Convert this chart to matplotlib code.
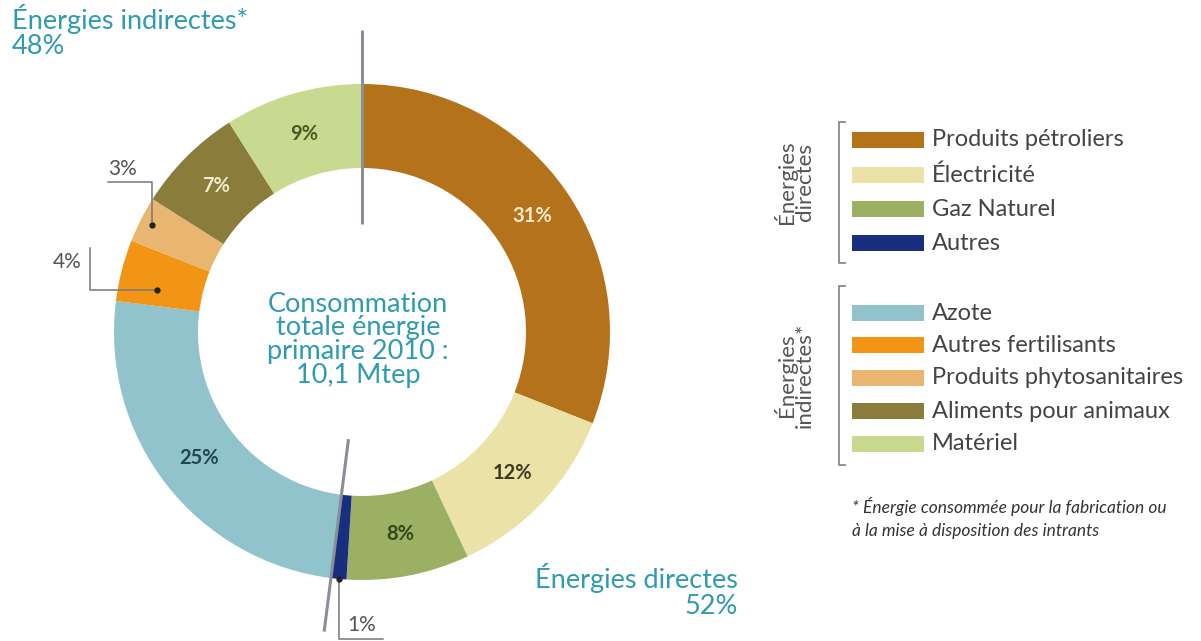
import matplotlib
matplotlib.use("Agg")
import matplotlib.pyplot as plt
import numpy as np
from matplotlib.patches import Rectangle

plt.rcParams['font.family'] = ['Lato', 'DejaVu Sans']

# data
labels = ["Produits pétroliers", "Électricité", "Gaz Naturel", "Autres",
          "Azote", "Autres fertilisants", "Produits phytosanitaires",
          "Aliments pour animaux", "Matériel"]
values = [31, 12, 8, 1, 25, 4, 3, 7, 9]
pct_text = ["31%", "12%", "8%", "1%", "25%", "4%", "3%", "7%", "9%"]
colors = ["#B4731B", "#EAE2A6", "#9BB062", "#1A2E80",
          "#90C3CC", "#F39514", "#E8B670", "#8A7D3C", "#C8DA8F"]
label_colors = ["#F8EBD0", "#3D3A22", "#2F4A1A", None,
                "#23454F", None, None, "#F1EBCF", "#4A5A24"]
n_direct = 4

teal = "#2F9BB0"
gray = "#555555"
H = 641

fig = plt.figure(figsize=(12.01, 6.41), dpi=100)
ax = fig.add_axes([0, 0, 1, 1])
ax.set_xlim(0, 1201)
ax.set_ylim(0, H)
ax.axis("off")

cx, cy = 362, H - 332
R, r = 248, 164
wedges, _ = ax.pie(values, colors=colors, startangle=90, counterclock=False,
                   radius=R, center=(cx, cy),
                   wedgeprops=dict(width=R - r, linewidth=0))
ax.set_xlim(0, 1201)
ax.set_ylim(0, H)
ax.set_aspect("equal")

def polar(ang, rad):
    a = np.deg2rad(ang)
    return cx + rad * np.cos(a), cy + rad * np.sin(a)

mid_r = (R + r) / 2
for w, t, c in zip(wedges, pct_text, label_colors):
    if c is None:
        continue
    x, y = polar((w.theta1 + w.theta2) / 2, mid_r)
    ax.text(x, y, t, ha="center", va="center", fontsize=14.5, color=c, fontweight="bold")

# divider lines between direct / indirect
for ang in [wedges[0].theta2, wedges[n_direct - 1].theta1]:
    x0, y0 = polar(ang, 108)
    x1, y1 = polar(ang, 302)
    ax.plot([x0, x1], [y0, y1], color="#8A8E96", lw=2.2, solid_capstyle="butt")

# callouts for small slices
def mid(i):
    return (wedges[i].theta1 + wedges[i].theta2) / 2

lc = "#777777"
# 3%
dx, dy = polar(mid(6), 236)
ax.plot([108, dx, dx], [H - 182, H - 182, dy], color=lc, lw=1.1)
ax.plot(dx, dy, "o", color="#222222", ms=3.5)
ax.text(123, H - 169, "3%", ha="center", va="center", fontsize=15, color=gray)
# 4%
dx, dy = polar(mid(5), 212)
ax.plot([90, 90, dx], [H - 248, H - 290, H - 290], color=lc, lw=1.1)
ax.plot(dx, H - 290, "o", color="#222222", ms=3.5)
ax.text(67, H - 262, "4%", ha="center", va="center", fontsize=15, color=gray)
# 1%
dx, dy = polar(mid(3), R)
ax.plot([dx, dx, dx + 44], [dy, H - 639, H - 639], color=lc, lw=1.1)
ax.plot(dx, dy, "o", color="#222222", ms=3.5)
ax.text(dx + 23, H - 625, "1%", ha="center", va="center", fontsize=15, color=gray)

# centre text
ax.text(cx - 4, H - 340, "Consommation\ntotale énergie\nprimaire 2010 :\n10,1 Mtep",
        ha="center", va="center", fontsize=19.5, color=teal, linespacing=0.95)

# group titles
ax.text(12, H - 19, "Énergies indirectes*", ha="left", va="center", fontsize=19.5, color=teal)
ax.text(12, H - 47, "48%", ha="left", va="center", fontsize=19.5, color=teal)
ax.text(738, H - 578, "Énergies directes", ha="right", va="center", fontsize=19.5, color=teal)
ax.text(738, H - 606, "52%", ha="right", va="center", fontsize=19.5, color=teal)

# legend
ys_direct = [140, 175, 209, 243]
ys_indirect = [313, 345, 378, 411, 444]
for i, yy in enumerate(ys_direct + ys_indirect):
    ax.add_patch(Rectangle((852, H - yy - 8), 72, 16, color=colors[i], lw=0))
    ax.text(932, H - yy, labels[i], ha="left", va="center", fontsize=17, color="#444444")

for (top, bot) in [(122, 263), (286, 465)]:
    ax.plot([845, 839, 839, 845], [H - top, H - top, H - bot, H - bot], color="#888888", lw=1.3)

ax.text(794, H - 182, "Énergies\ndirectes", rotation=90, ha="center", va="center",
        fontsize=16, color=gray, linespacing=0.9)
ax.text(794, H - 375, "Énergies\nindirectes*", rotation=90, ha="center", va="center",
        fontsize=16, color=gray, linespacing=0.9)

ax.text(852, H - 507, "* Énergie consommée pour la fabrication ou", ha="left", va="center",
        fontsize=12.5, style="italic", color="#333333")
ax.text(852, H - 531, "à la mise à disposition des intrants", ha="left", va="center",
        fontsize=12.5, style="italic", color="#333333")

fig.savefig("out.png", dpi=100)
